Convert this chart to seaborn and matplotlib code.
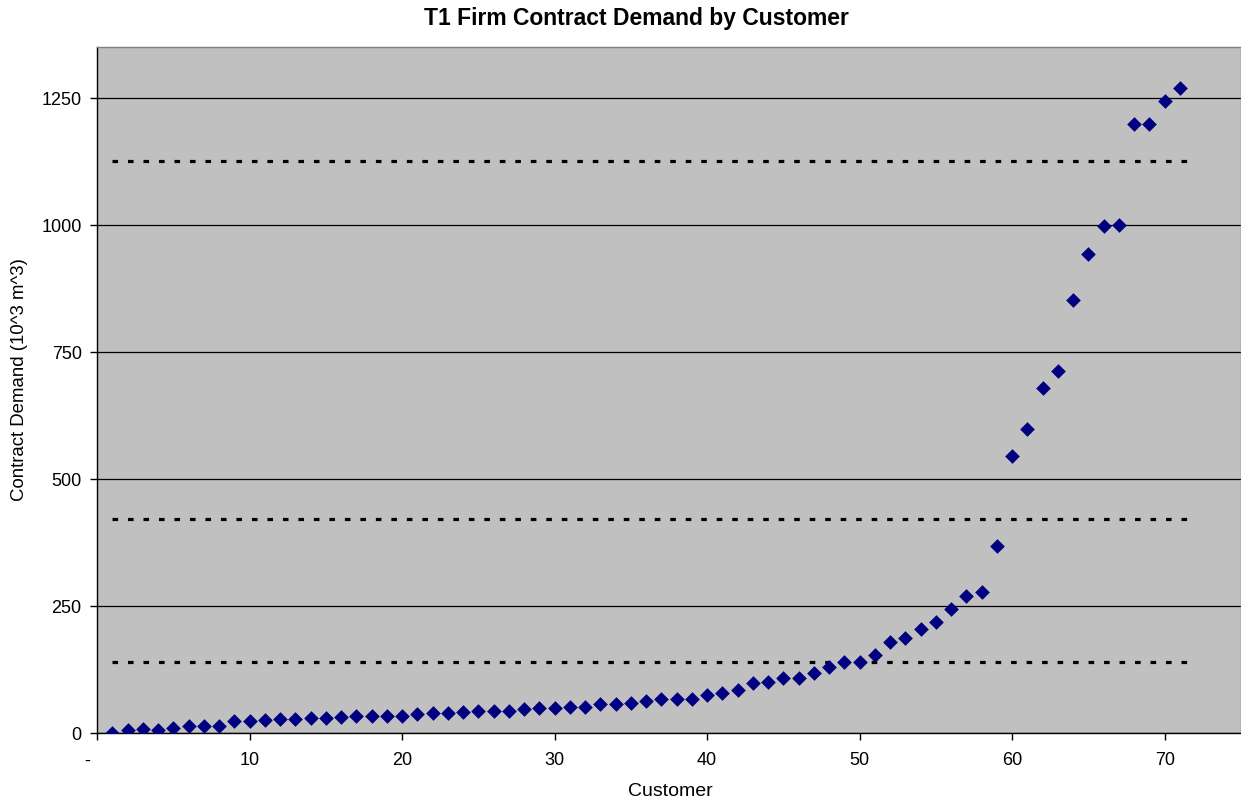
import numpy as np
import pandas as pd
import matplotlib
matplotlib.use("Agg")
import matplotlib.pyplot as plt
import matplotlib.transforms as mtransforms
import seaborn as sns

# ---- data ----
customers = list(range(1, 72))
demand = [0, 6, 7, 6, 9, 13, 14, 13, 24, 24,
          26, 27, 28, 29, 29, 31, 33, 34, 34, 34,
          37, 39, 40, 42, 43, 43, 43, 47, 49, 49,
          51, 52, 58, 58, 60, 64, 67, 67, 67, 74,
          79, 84, 99, 100, 108, 108, 119, 129, 139, 140,
          153, 179, 188, 204, 219, 244, 269, 278, 369, 546,
          599, 680, 712, 853, 943, 998, 1000, 1200, 1200, 1245,
          1270]
thresholds = [140, 421, 1127]
threshold_span = [1, 72]
y_ticks = [0, 250, 500, 750, 1000, 1250]
x_ticks = [0, 10, 20, 30, 40, 50, 60, 70]
x_tick_labels = ["-", "10", "20", "30", "40", "50", "60", "70"]

df = pd.DataFrame({"Customer": customers, "Demand": demand})

sns.set_theme(style="white", rc={
    "axes.facecolor": "#C0C0C0",
    "figure.facecolor": "white",
    "axes.edgecolor": "black",
    "text.color": "black",
    "axes.labelcolor": "black",
    "xtick.color": "black",
    "ytick.color": "black",
})
plt.rcParams["font.family"] = ["Liberation Sans", "DejaVu Sans"]

W, H = 1241, 799
fig = plt.figure(figsize=(W / 100, H / 100), dpi=100)
ax = fig.add_axes([97 / W, 1 - 733 / H, 1 - 97 / W, (733 - 47) / H])

# reference lines
for t in thresholds:
    ax.plot(threshold_span, [t, t], color="black", lw=2.3,
            linestyle=(0, (1.75, 3.1)), dash_capstyle="butt", zorder=2)

sns.scatterplot(data=df, x="Customer", y="Demand", marker="D",
                color="#000080", s=56, linewidth=0, ax=ax, zorder=3)

ax.set_xlim(0, 75)
ax.set_ylim(0, 1351)
ax.set_yticks(y_ticks)
ax.set_xticks(x_ticks)
ax.set_xticklabels(x_tick_labels)
ax.yaxis.grid(True, color="black", linewidth=0.9)
ax.xaxis.grid(False)
ax.set_axisbelow(True)

for side in ["top", "right"]:
    ax.spines[side].set_color("#808080")
    ax.spines[side].set_linewidth(1.0)
for side in ["left", "bottom"]:
    ax.spines[side].set_color("black")
    ax.spines[side].set_linewidth(1.0)

ax.tick_params(axis="both", which="major", direction="out", length=5,
               width=1, color="black", labelsize=13, labelcolor="black",
               bottom=True, left=True)
ax.tick_params(axis="x", pad=9)
ax.tick_params(axis="y", pad=6)

# shift the "-" label slightly left like the reference
lbl = ax.get_xticklabels()[0]
lbl.set_transform(lbl.get_transform() +
                  mtransforms.ScaledTranslation(-10 / 100, 0, fig.dpi_scale_trans))

ax.set_xlabel("Customer", fontsize=14)
ax.set_ylabel("Contract Demand (10^3 m^3)", fontsize=13.4)
ax.xaxis.set_label_coords((670 - 97) / 1144, (733 - 791) / 686)
ax.yaxis.set_label_coords((20 - 97) / 1144, (733 - 380) / 686)
ax.xaxis.label.set_va("center")
ax.yaxis.label.set_va("center")

fig.text(636 / W, 1 - 18 / H, "T1 Firm Contract Demand by Customer",
         ha="center", va="center", fontsize=16.5, fontweight="bold",
         color="black")

fig.savefig("out.png", dpi=100)
